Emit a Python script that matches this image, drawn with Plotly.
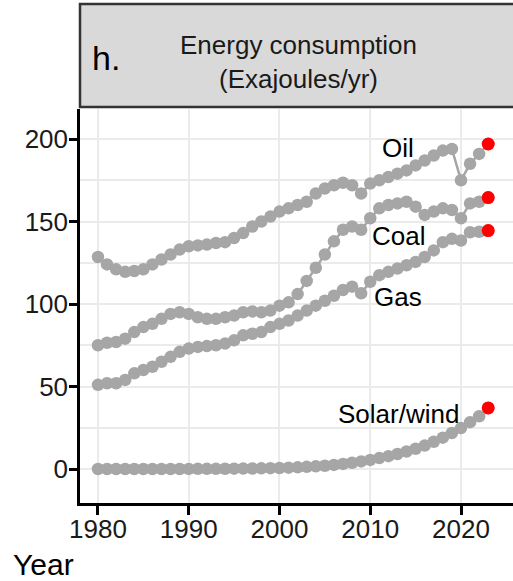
import plotly.graph_objects as go

years = list(range(1980, 2024))

oil = [128.5, 124, 121, 119.5, 120, 121, 124, 127, 130, 133,
       135, 135.5, 136, 137, 137.5, 140, 143, 147, 150, 153,
       156, 158, 160, 162, 167, 170, 172, 173.5, 172, 167,
       173, 175, 177, 179, 181, 184, 187, 190, 193, 194,
       175, 185, 191, 197]

coal = [75, 76.5, 77, 79, 83, 86, 88, 91, 94, 95,
        94, 92, 91, 91, 92, 93, 95, 95.5, 95, 96,
        99, 101, 106, 114, 122, 130, 138, 145, 147, 145,
        152, 158, 160, 161, 162, 159, 154, 156, 158, 157,
        152, 161, 162, 164.5]

gas = [51, 52, 52, 54, 58, 60, 62, 65, 68, 71,
       73, 74, 74.5, 75, 76, 78, 81, 82, 83, 86,
       88, 90, 93, 96, 99, 102, 105, 108.5, 110.5, 106.5,
       113.5, 117.5, 119.5, 121.5, 123.5, 125.5, 128.5, 132.5, 137.5, 139.5,
       138.5, 143.5, 143.8, 144.5]

solar_wind = [0, 0, 0, 0, 0, 0, 0, 0, 0, 0,
              0.05, 0.1, 0.1, 0.1, 0.15, 0.2, 0.25, 0.3, 0.4, 0.5,
              0.6, 0.8, 1.0, 1.3, 1.6, 2.0, 2.5, 3.1, 3.8, 4.6,
              5.5, 6.6, 7.8, 9.1, 10.6, 12.3, 14.2, 16.5, 19.0, 21.8,
              24.8, 28.4, 32.0, 37.0]

series = [("Oil", oil), ("Coal", coal), ("Gas", gas), ("Solar/wind", solar_wind)]
label_pos = {"Oil": 194.8, "Coal": 141.2, "Gas": 104.5, "Solar/wind": 33.3}
label_year = 2013.06

x_ticks = [1980, 1990, 2000, 2010, 2020]
y_ticks = [0, 50, 100, 150, 200]

GRAY = "#a6a6a6"
FONT = "Liberation Sans, Arial, Helvetica, sans-serif"

fig = go.Figure()
for name, vals in series:
    fig.add_trace(go.Scatter(
        x=years, y=vals, mode="lines+markers",
        line=dict(color=GRAY, width=2.5),
        marker=dict(color=GRAY, size=12.5),
        showlegend=False, hoverinfo="skip"))
for name, vals in series:
    fig.add_trace(go.Scatter(
        x=[years[-1]], y=[vals[-1]], mode="markers",
        marker=dict(color="#ff0000", size=13),
        showlegend=False, hoverinfo="skip"))

for name, _ in series:
    fig.add_annotation(x=label_year, y=label_pos[name], text=name,
                       showarrow=False, xanchor="center", yanchor="middle",
                       font=dict(family=FONT, size=26, color="black"))

# strip header
fig.add_shape(type="rect", xref="paper", yref="paper",
              x0=0, x1=1.03, y0=1.005, y1=1.2665,
              fillcolor="#d9d9d9", line=dict(color="#333333", width=2.5),
              layer="above")
fig.add_annotation(xref="paper", yref="paper", x=(298 - 80) / 433, y=(503 - 62) / 394,
                   text="Energy consumption<br>(Exajoules/yr)", showarrow=False,
                   xanchor="center", yanchor="middle",
                   font=dict(family=FONT, size=26, color="#1a1a1a"))
fig.add_annotation(xref="paper", yref="paper", x=(90 - 80) / 433, y=(503 - 58) / 394,
                   text="h.", showarrow=False, xanchor="left", yanchor="middle",
                   font=dict(family=FONT, size=34, color="black"))
fig.add_annotation(xref="paper", yref="paper", x=-69 / 433, y=(503 - 564) / 394,
                   text="Year", showarrow=False, xanchor="left", yanchor="middle",
                   font=dict(family=FONT, size=30, color="black"))

fig.update_xaxes(range=[1978.02, 2025.73], tickvals=x_ticks,
                 ticktext=[str(v) for v in x_ticks],
                 showgrid=True, gridcolor="#ebebeb", gridwidth=2.2,
                 showline=True, linecolor="black", linewidth=2.5,
                 ticks="outside", ticklen=9, tickwidth=2.5, tickcolor="black",
                 ticklabelstandoff=-8,
                 tickfont=dict(family=FONT, size=26, color="#1a1a1a"),
                 zeroline=False)
fig.update_yaxes(range=[-20.6, 218.2], tickvals=y_ticks,
                 ticktext=[str(v) for v in y_ticks],
                 showgrid=True, gridcolor="#ebebeb", gridwidth=2.2,
                 minor=dict(tickvals=[25, 75, 125, 175], showgrid=True,
                            gridcolor="#ebebeb", gridwidth=1.8, ticks=""),
                 showline=True, linecolor="black", linewidth=2.5,
                 ticks="outside", ticklen=8, tickwidth=2.5, tickcolor="black",
                 ticklabelstandoff=-4,
                 tickfont=dict(family=FONT, size=26, color="#1a1a1a"),
                 zeroline=False)

fig.update_layout(width=513, height=581,
                  margin=dict(l=80, r=0, t=109, b=78),
                  plot_bgcolor="white", paper_bgcolor="white")

fig.write_html("out.html", config={"displayModeBar": False},
               post_script="document.body.style.margin='0';"
                           "document.body.style.overflow='hidden';")
